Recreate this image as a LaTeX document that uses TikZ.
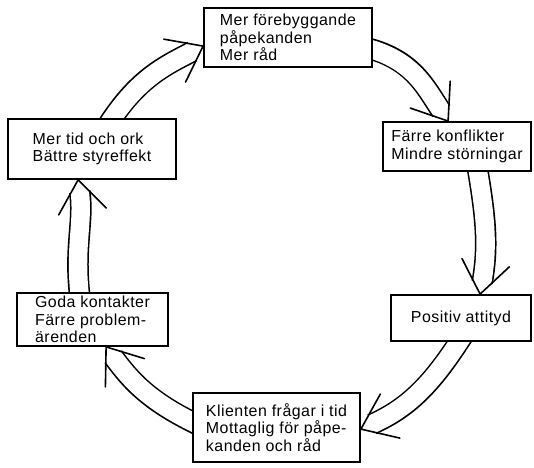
\documentclass[tikz,border=0pt]{standalone}
\usepackage{fontspec}
\setmainfont{Liberation Sans}[LetterSpace=3]
\usetikzlibrary{decorations.markings,backgrounds}

\tikzset{
  x=1bp, y=1bp,
  box/.style={draw, line width=1.8bp, fill=white, align=left, inner sep=0pt,
    font=\fontsize{16}{17.5}\selectfont},
  shaftblack/.style={line width=21.6bp, draw=black,
    shorten <=-12bp, shorten >=12bp},
  shaftwhite/.style={line width=18.4bp, draw=white,
    shorten <=-14bp, shorten >=10.5bp},
  headline/.style={line width=1.6bp, line join=round, line cap=round},
  headmark/.style={decorate, decoration={markings,
    mark=at position 1 with {\draw[headline] (143:40bp) -- (0,0) -- (-143:40bp);}}},
}

% a hollow double-stroke arrow with an open V head
\newcommand\ringarrow[3]{%
  \draw[shaftblack] #1 to[#2] #3;
  \draw[shaftwhite] #1 to[#2] #3;
  \path[headmark] #1 to[#2] #3;
}

\begin{document}
\begin{tikzpicture}
\useasboundingbox (0,0) rectangle (534,-468);

\node[box, minimum width=168bp, minimum height=59bp] (b1) at (288,-37.5)
  {Mer förebyggande\\påpekanden\\Mer råd};
\node[box, minimum width=148bp, minimum height=49bp] (b2) at (457,-146.5)
  {Färre konflikter\\Mindre störningar};
\node[box, minimum width=140bp, minimum height=46bp] (b3) at (461,-318)
  {Positiv attityd};
\node[box, minimum width=167bp, minimum height=69bp] (b4) at (276.5,-427.5)
  {Klienten frågar i tid\\Mottaglig för påpe-\\kanden och råd};
\node[box, minimum width=151bp, minimum height=53bp] (b5) at (92.5,-319.5)
  {Goda kontakter\\Färre problem-\\ärenden};
\node[box, minimum width=168bp, minimum height=60bp] (b6) at (92,-149)
  {Mer tid och ork\\Bättre styreffekt};

\begin{pgfonlayer}{background}
  \ringarrow{([yshift=-42bp]b1.north east)}{out=-12,in=124}{([xshift=66bp]b2.north west)}
  \ringarrow{([xshift=96bp]b2.south west)}{out=-80,in=80}{([xshift=90bp]b3.north west)}
  \ringarrow{([xshift=69bp]b3.south west)}{out=-122,in=24}{([yshift=-37bp]b4.north east)}
  \ringarrow{([yshift=-30bp]b4.north west)}{out=155,in=-54}{([xshift=90bp]b5.south west)}
  \ringarrow{([xshift=63bp]b5.north west)}{out=98,in=-82}{([xshift=71bp]b6.south west)}
  \ringarrow{([xshift=105bp]b6.north west)}{out=58,in=-153}{([yshift=-39bp]b1.north west)}
\end{pgfonlayer}
\end{tikzpicture}
\end{document}
